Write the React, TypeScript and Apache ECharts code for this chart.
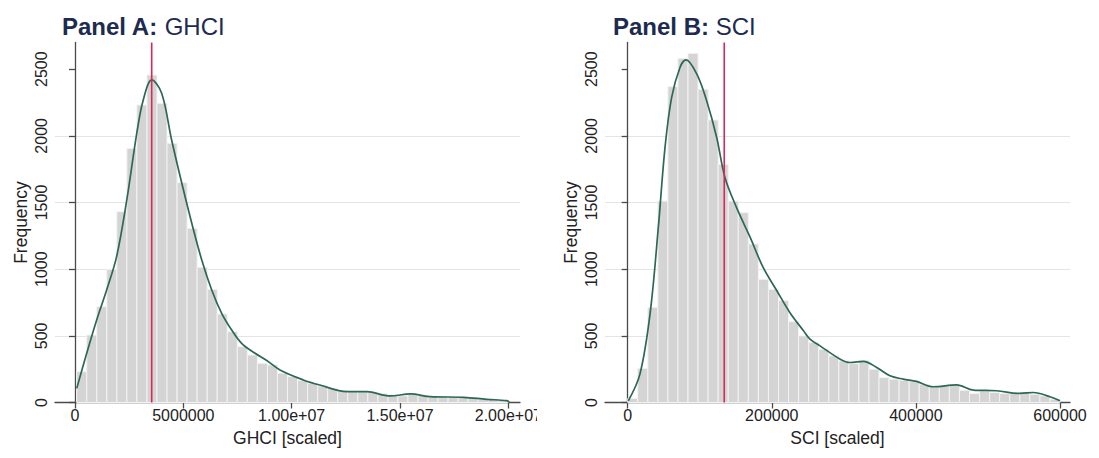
import React, { useEffect, useRef } from "react";
import * as echarts from "echarts";

// ---------- Data ----------
const titleA = ["Panel A:", "GHCI"];
const titleB = ["Panel B:", "SCI"];
const xNameA = "GHCI [scaled]";
const xNameB = "SCI [scaled]";
const yName = "Frequency";

const yTicks = [0, 500, 1000, 1500, 2000, 2500];
const xTicksA = [0, 5000000, 10000000, 15000000, 20000000];
const xLabelsA = ["0", "5000000", "1.00e+07", "1.50e+07", "2.00e+07"];
const xTicksB = [0, 200000, 400000, 600000];
const xLabelsB = ["0", "200000", "400000", "600000"];

// histogram bins (43 bins each)
const binStartA = 78000;
const binWidthA = 463300;
const countsA = [
  231, 506, 719, 999, 1431, 1906, 2231, 2456, 2244, 1944, 1649, 1306, 1014, 849, 664, 531, 419,
  356, 294, 282, 220, 195, 165, 145, 125, 107, 90, 82, 82, 75, 65, 57, 50, 60, 55, 45, 42, 40,
  45, 35, 27, 25, 15,
];
const binStartB = 0;
const binWidthB = 13953;
const countsB = [
  30, 256, 714, 1511, 2369, 2581, 2619, 2349, 2119, 1786, 1511, 1424, 1189, 924, 849, 764, 606,
  500, 450, 400, 350, 312, 292, 317, 250, 187, 175, 167, 157, 137, 117, 125, 132, 92, 67, 87, 75,
  67, 67, 75, 62, 50, 25,
];

// kernel density curves, [x, frequency]
const densityA = [
  [80000, 106], [540000, 369], [1000000, 619], [1460000, 844], [1920000, 1094],
  [2390000, 1519], [2850000, 2019], [3150000, 2269], [3540000, 2419], [4000000, 2319],
  [4460000, 1969], [4930000, 1644], [5390000, 1344], [5850000, 1069], [6310000, 844],
  [6770000, 669], [7230000, 544], [7690000, 444], [8310000, 369], [8850000, 315],
  [9460000, 244], [10540000, 169], [11300000, 131], [12550000, 81], [13470000, 81],
  [14540000, 49], [15470000, 64], [16400000, 44], [17930000, 39], [19000000, 24],
  [19930000, 14], [20040000, 2],
];
const densityB = [
  [800, 12], [17000, 213], [31000, 663], [42500, 1313], [51800, 1913], [61000, 2288],
  [72600, 2513], [80900, 2569], [95800, 2464], [109600, 2263], [123500, 1988], [135000, 1688],
  [151000, 1463], [170000, 1238], [188000, 1013], [207000, 838], [225000, 675], [244000, 538],
  [253000, 476], [267000, 425], [295000, 325], [308500, 300], [327000, 308], [345600, 263],
  [364000, 200], [382500, 175], [401000, 158], [424000, 118], [456600, 132], [479700, 93],
  [512000, 88], [544500, 68], [563000, 75], [586000, 43], [600000, 13],
];

// reference (vertical) lines
const refLineA = 3540000;
const refLineB = 134000;

const yMax = 2700;

// ---------- Styles ----------
const FONT = "'Liberation Sans', Arial, Helvetica, sans-serif";
const TITLE_COLOR = "#1d2b50";
const AXIS_COLOR = "#4a4a4a";
const BAR_FILL = "#d4d4d4";
const BAR_STROKE = "#f3f3f3";
const DENS_COLOR = "#2d6758";
const REF_COLOR = "#d8285a";

function bins(start: number, width: number, counts: number[]) {
  return counts.map((c, i) => [start + i * width, start + (i + 1) * width, c]);
}

const renderBar = (params: any, api: any) => {
  const p0 = api.coord([api.value(0), api.value(2)]);
  const p1 = api.coord([api.value(1), 0]);
  return {
    type: "rect",
    shape: { x: p0[0], y: p0[1], width: p1[0] - p0[0], height: p1[1] - p0[1] },
    style: { fill: BAR_FILL, stroke: BAR_STROKE, lineWidth: 1 },
  };
};

function makeX(gridIndex: number, min: number, max: number, ticks: number[], labels: string[], name: string) {
  return {
    type: "value",
    gridIndex,
    min,
    max,
    name,
    nameLocation: "middle",
    nameGap: 26,
    nameTextStyle: { fontSize: 17.5, color: "#222", fontFamily: FONT },
    axisLine: { show: true, onZero: false, lineStyle: { color: AXIS_COLOR, width: 1.3 } },
    axisTick: { show: true, length: 6, customValues: ticks, lineStyle: { color: AXIS_COLOR, width: 1.3 } },
    axisLabel: {
      customValues: ticks,
      fontSize: 16,
      color: "#222",
      fontFamily: FONT,
      margin: 5,
      formatter: (v: number) => {
        const i = ticks.indexOf(v);
        return i >= 0 ? labels[i] : "";
      },
    },
    splitLine: { show: false },
  };
}

function makeY(gridIndex: number) {
  return {
    type: "value",
    gridIndex,
    min: 0,
    max: yMax,
    offset: -6,
    name: yName,
    nameLocation: "middle",
    nameRotate: 90,
    nameGap: 31,
    nameTextStyle: { fontSize: 17.5, color: "#222", fontFamily: FONT },
    axisLine: { show: true, lineStyle: { color: AXIS_COLOR, width: 1.3 } },
    axisTick: { show: true, length: 6, customValues: yTicks, lineStyle: { color: AXIS_COLOR, width: 1.3 } },
    axisLabel: {
      customValues: yTicks,
      rotate: 90,
      fontSize: 16,
      color: "#222",
      fontFamily: FONT,
      margin: 12,
      formatter: (v: number) => String(v),
    },
    splitLine: {
      show: true,
      showMinLine: false,
      showMaxLine: false,
      lineStyle: { color: "#e4e4e4", width: 1.2 },
    },
  };
}

function titleText(parts: string[]) {
  return `{b|${parts[0]}} {n|${parts[1]}}`;
}

export default function App() {
  const ref = useRef<HTMLDivElement>(null);
  useEffect(() => {
    if (!ref.current) return;
    const chart = echarts.init(ref.current, undefined, { renderer: "svg" });
    const rich = {
      b: { fontSize: 24, fontWeight: "bold", color: TITLE_COLOR, fontFamily: FONT, lineHeight: 24 },
      n: { fontSize: 24, fontWeight: "normal", color: TITLE_COLOR, fontFamily: FONT, lineHeight: 24 },
    };
    chart.setOption({
      animation: false,
      backgroundColor: "#ffffff",
      title: [
        { left: 62, top: 14, padding: 0, text: titleText(titleA), textStyle: { fontWeight: "normal", fontSize: 24, rich } },
        { left: 613, top: 14, padding: 0, text: titleText(titleB), textStyle: { fontWeight: "normal", fontSize: 24, rich } },
      ],
      grid: [
        { left: 55, top: 42.5, width: 465, height: 360 },
        { left: 605, top: 42.5, width: 465, height: 360 },
      ],
      xAxis: [
        makeX(0, -923000, 20538000, xTicksA, xLabelsA, xNameA),
        makeX(1, -31500, 613900, xTicksB, xLabelsB, xNameB),
      ],
      yAxis: [makeY(0), makeY(1)],
      series: [
        {
          type: "custom",
          xAxisIndex: 0,
          yAxisIndex: 0,
          renderItem: renderBar,
          data: bins(binStartA, binWidthA, countsA),
          encode: { x: [0, 1], y: 2 },
          z: 2,
        },
        {
          type: "custom",
          xAxisIndex: 1,
          yAxisIndex: 1,
          renderItem: renderBar,
          data: bins(binStartB, binWidthB, countsB),
          encode: { x: [0, 1], y: 2 },
          z: 2,
        },
        {
          type: "line",
          xAxisIndex: 0,
          yAxisIndex: 0,
          data: densityA,
          smooth: 0.35,
          showSymbol: false,
          lineStyle: { color: DENS_COLOR, width: 1.7 },
          z: 3,
        },
        {
          type: "line",
          xAxisIndex: 1,
          yAxisIndex: 1,
          data: densityB,
          smooth: 0.35,
          showSymbol: false,
          lineStyle: { color: DENS_COLOR, width: 1.7 },
          z: 3,
        },
        {
          type: "line",
          xAxisIndex: 0,
          yAxisIndex: 0,
          data: [[refLineA, 0], [refLineA, yMax]],
          showSymbol: false,
          lineStyle: { color: REF_COLOR, width: 1.6 },
          z: 4,
        },
        {
          type: "line",
          xAxisIndex: 1,
          yAxisIndex: 1,
          data: [[refLineB, 0], [refLineB, yMax]],
          showSymbol: false,
          lineStyle: { color: REF_COLOR, width: 1.6 },
          z: 4,
        },
      ],
      graphic: [
        {
          type: "rect",
          left: 537,
          top: 404,
          shape: { width: 18, height: 24 },
          style: { fill: "#ffffff" },
          z: 100,
        },
      ],
    });
    return () => chart.dispose();
  }, []);
  return (
    <div
      ref={ref}
      style={{ position: "fixed", left: 0, top: 0, width: 1099, height: 458, background: "#fff" }}
    />
  );
}
